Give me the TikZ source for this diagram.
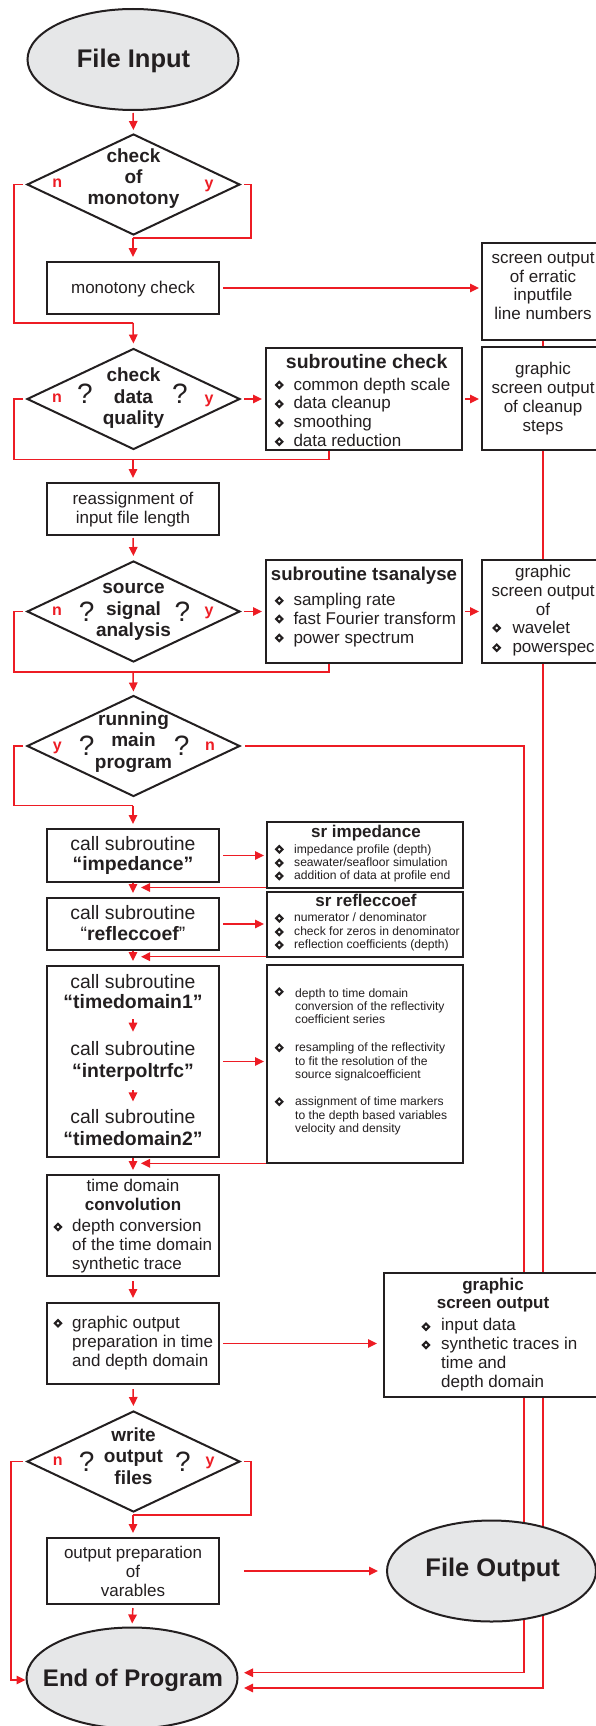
\documentclass[tikz,border=0pt]{standalone}
\usepackage{fontspec}
\setmainfont{Liberation Sans}
\usetikzlibrary{shapes.geometric,arrows.meta,backgrounds}
\definecolor{rd}{HTML}{ED1C24}
\definecolor{gfill}{HTML}{E6E7E8}
\definecolor{tc}{HTML}{231F20}
\newcommand\stk[7]{\foreach \lineT [count=\nn] in {#7}{\node[#2,anchor=#3] (#1\nn) at ({#4},{#5+#6*(\nn-1)}) {\lineT};}}
\begin{document}
\begin{tikzpicture}[x=1pt,y=-1pt,
  tx/.style={inner sep=0pt,text=tc},
  f17/.style={tx,font=\fontsize{17}{19}\selectfont},
  b17/.style={tx,font=\fontsize{17}{19}\selectfont\bfseries},
  f12/.style={tx,font=\fontsize{12.1}{13}\selectfont},
  fcall/.style={tx,font=\fontsize{19.4}{21}\selectfont},
  bcall/.style={tx,font=\fontsize{19.4}{21}\selectfont\bfseries},
  bdia/.style={tx,font=\fontsize{19}{21}\selectfont\bfseries},
  qm/.style={tx,font=\fontsize{28}{30}\selectfont},
  yn/.style={inner sep=0pt,text=rd,font=\fontsize{16}{18}\selectfont\bfseries},
  term/.style={tx,font=\fontsize{25.5}{28}\selectfont\bfseries},
  ln/.style={draw=rd,line width=1.5pt},
  arr/.style={ln,-{Triangle[length=9pt,width=8.5pt]}},
  box/.style={rectangle,draw=tc,line width=2pt,fill=white,inner sep=0pt},
  dia/.style={diamond,draw=tc,line width=2pt,fill=white,inner sep=0pt,minimum width=213pt,minimum height=101pt},
  ell/.style={ellipse,draw=tc,line width=2pt,fill=gfill,inner sep=0pt,minimum width=211pt,minimum height=101pt},
  bul/.style={diamond,draw=tc,line width=2.1pt,fill=white,inner sep=0pt,minimum width=7.2pt,minimum height=7.2pt}
]
\useasboundingbox (0,0) rectangle (596,1726);

% ---------- File Input ----------
\node[ell] (fi) at (133,59.5) {};
\node[term,anchor=base] (fit) at (133.5,67.3) {File Input};

% ---------- check of monotony ----------
\node[dia] (d1) at (133.5,184.5) {};
\stk{dat}{bdia}{base}{133.5}{162.7}{21}{check, of, monotony}
\node[yn,anchor=base] (d1n) at (57.3,187.5) {n};
\node[yn,anchor=base] (d1y) at (209,188.5) {y};

\node[box,minimum width=172pt,minimum height=52pt] (b1) at (133,288) {};
\node[f17,anchor=base] (b1t) at (133,293) {monotony check};

\node[box,minimum width=122pt,minimum height=97pt] (berr) at (543,291.5) {};
\stk{berrt}{f17}{base}{543}{263.3}{18.7}{screen output, of erratic, inputfile, line numbers}

% ---------- check data quality ----------
\node[dia] (d2) at (133.5,399) {};
\stk{dbt}{bdia}{base}{133.5}{381.5}{21.5}{check, data, quality}
\node[yn,anchor=base] (d2n) at (57,402.3) {n};
\node[yn,anchor=base] (d2y) at (209,403) {y};
\node[qm,anchor=base] (d2q1) at (85,403.3) {?};
\node[qm,anchor=base] (d2q2) at (180,403.3) {?};

\node[box,minimum width=196pt,minimum height=102pt] (bchk) at (364,399) {};
\node[tx,font=\fontsize{19.5}{21}\selectfont\bfseries,anchor=base] (bchkt) at (366.7,368.3) {subroutine check};
\stk{bchki}{f17}{base west}{293.3}{390}{18.9}{common depth scale, data cleanup, smoothing, data reduction}
\foreach \nn/\yy in {1/385,2/404,3/423,4/441.7} \node[bul] (bchkb\nn) at (279.3,\yy) {};

\node[box,minimum width=122pt,minimum height=103pt] (bcln) at (543,398.5) {};
\stk{bclnt}{f17}{base}{543}{374}{19}{graphic, screen output, of cleanup, steps}

\node[box,minimum width=172pt,minimum height=52pt] (brea) at (133,509) {};
\stk{breat}{f17}{base}{133}{504}{19.3}{reassignment of, input file length}

% ---------- source signal analysis ----------
\node[dia] (d3) at (133.5,611.5) {};
\stk{dct}{bdia}{base}{133.5}{593.3}{21.7}{source, signal, analysis}
\node[yn,anchor=base] (d3n) at (57,615) {n};
\node[yn,anchor=base] (d3y) at (209,615.5) {y};
\node[qm,anchor=base] (d3q1) at (86.7,621.7) {?};
\node[qm,anchor=base] (d3q2) at (182.5,621.7) {?};

\node[box,minimum width=196pt,minimum height=103pt] (btsa) at (364,611.5) {};
\node[tx,font=\fontsize{18.6}{21}\selectfont\bfseries,anchor=base] (btsat) at (364,580.7) {subroutine tsanalyse};
\stk{btsai}{f17}{base west}{293.3}{605.3}{19.3}{sampling rate, fast Fourier transform, power spectrum}
\foreach \nn/\yy in {1/600.7,2/619,3/638} \node[bul] (btsab\nn) at (279.3,\yy) {};

\node[box,minimum width=122pt,minimum height=103pt] (bgr2) at (543,611.5) {};
\stk{bgrt}{f17}{base}{543}{577.3}{19}{graphic, screen output, of}
\stk{bgri}{f17}{base west}{512.3}{633.3}{19.4}{wavelet, powerspec}
\foreach \nn/\yy in {1/628,2/647.7} \node[bul] (bgrb\nn) at (496.7,\yy) {};

% ---------- running main program ----------
\node[dia] (d4) at (133.5,746) {};
\stk{ddt}{bdia}{base}{133.5}{725}{21.7}{running, main, program}
\node[yn,anchor=base] (d4y) at (57.3,750) {y};
\node[yn,anchor=base] (d4n) at (210,750.7) {n};
\node[qm,anchor=base] (d4q1) at (86.7,755) {?};
\node[qm,anchor=base] (d4q2) at (181.7,755) {?};

% ---------- subroutine calls ----------
\node[box,minimum width=172pt,minimum height=53pt] (bimp) at (133,855.5) {};
\node[fcall,anchor=base] (bimpt1) at (133,850) {call subroutine};
\node[bcall,anchor=base] (bimpt2) at (133,870.7) {“impedance”};

\node[box,minimum width=196pt,minimum height=66pt] (bsimp) at (365,855) {};
\node[b17,anchor=base] (bsimpt) at (366,837.3) {sr impedance};
\stk{bsimpi}{f12}{base west}{294}{853.3}{13.3}{impedance profile (depth), {seawater/seafloor simulation}, addition of data at profile end}
\foreach \nn/\yy in {1/849.3,2/863,3/876} \node[bul] (bsimpb\nn) at (279.3,\yy) {};

\node[box,minimum width=172pt,minimum height=52pt] (bref) at (133,924) {};
\node[fcall,anchor=base] (breft1) at (133,919.3) {call subroutine};
\node[fcall,anchor=base] (breft2) at (133,940) {“\textbf{refleccoef}”};

\node[box,minimum width=196pt,minimum height=65pt] (bsref) at (365,924.5) {};
\node[b17,anchor=base] (bsreft) at (366,906.7) {sr refleccoef};
\stk{bsrefi}{f12}{base west}{294}{921.7}{13.3}{{numerator / denominator}, check for zeros in denominator, reflection coefficients (depth)}
\foreach \nn/\yy in {1/918.3,2/932,3/945} \node[bul] (bsrefb\nn) at (279.3,\yy) {};

\node[box,minimum width=172pt,minimum height=191pt] (btd) at (133,1061.5) {};
\node[fcall,anchor=base] (tdt1) at (133,988.3) {call subroutine};
\node[bcall,anchor=base] (tdt2) at (133,1008.3) {“timedomain1”};
\node[fcall,anchor=base] (tdt3) at (133,1055) {call subroutine};
\node[bcall,anchor=base] (tdt4) at (133,1077.3) {“interpoltrfc”};
\node[fcall,anchor=base] (tdt5) at (133,1123.3) {call subroutine};
\node[bcall,anchor=base] (tdt6) at (133,1145.7) {“timedomain2”};
\draw[arr,shorten <=10.7pt,shorten >=9.1pt] (tdt2.south) -- (tdt3.north);
\draw[arr,shorten <=8.6pt,shorten >=7.7pt] (tdt4.south) -- (tdt5.north);

\node[box,minimum width=196pt,minimum height=198pt] (bbig) at (365,1064) {};
\stk{bbigA}{f12}{base west}{295}{997.3}{13.3}{depth to time domain, conversion of the reflectivity, coefficient series}
\stk{bbigB}{f12}{base west}{295}{1051.7}{13.3}{resampling of the reflectivity, to fit the resolution of the, source signalcoefficient}
\stk{bbigC}{f12}{base west}{295}{1105.7}{13.3}{assignment of time markers, to the depth based variables, velocity and density}
\foreach \nn/\yy in {1/991.7,2/1047.7,3/1101.7} \node[bul] (bbigb\nn) at (279.3,\yy) {};

% ---------- convolution ----------
\node[box,minimum width=172pt,minimum height=101pt] (bconv) at (133,1225.5) {};
\node[f17,anchor=base] (bconvt1) at (133,1191.7) {time domain};
\node[b17,anchor=base] (bconvt2) at (133,1210) {convolution};
\stk{bconvi}{f17}{base west}{72}{1231.7}{18.8}{depth conversion, of the time domain, synthetic trace}
\node[bul] (bconvb) at (58,1227) {};

\node[box,minimum width=172pt,minimum height=81pt] (bgop) at (133,1343.5) {};
\stk{bgopi}{f17}{base west}{72}{1328.3}{18.85}{graphic output, preparation in time, and depth domain}
\node[bul] (bgopb) at (58,1323.3) {};

\node[box,minimum width=220pt,minimum height=124pt] (bgso) at (494,1335) {};
\stk{bgsot}{b17}{base}{493}{1290}{18.3}{graphic, screen output}
\stk{bgsoi}{f17}{base west}{441}{1330}{19.1}{input data, synthetic traces in, time and, depth domain}
\foreach \nn/\yy in {1/1326.7,2/1345} \node[bul] (bgsob\nn) at (426,\yy) {};

% ---------- write output files ----------
\node[dia] (d5) at (133.5,1461.5) {};
\stk{det}{bdia}{base}{133.5}{1441.7}{21.2}{write, output, files}
\node[yn,anchor=base] (d5n) at (57.7,1465) {n};
\node[yn,anchor=base] (d5y) at (210,1465.5) {y};
\node[qm,anchor=base] (d5q1) at (86.7,1471.7) {?};
\node[qm,anchor=base] (d5q2) at (183,1471.7) {?};

\node[box,minimum width=172pt,minimum height=66pt] (bout) at (133,1571) {};
\stk{boutt}{f17}{base}{133}{1558.3}{18.85}{output preparation, of, varables}

\node[ell,minimum width=209pt] (fo) at (491.5,1571) {};
\node[term,anchor=base] (fot) at (492.7,1576) {File Output};

\node[ell] (ep) at (132,1678) {};
\node[tx,font=\fontsize{24}{26}\selectfont\bfseries,anchor=base] (ept) at (133,1686.7) {End of Program};

% ---------- connectors ----------
\begin{scope}[on background layer]
\coordinate (m0) at (133,238);
\coordinate (m1) at (133,323);
\coordinate (m2) at (133,459.3);
\coordinate (m3) at (133,672);
\coordinate (m4) at (133,805.7);
\coordinate (m5) at (133,1515);
\coordinate (r1) at (141,887.5);
\coordinate (r2) at (141,956.7);
\coordinate (r3) at (141,1163.3);

\draw[arr,shorten <=2pt,shorten >=3pt] (fi.south) -- (d1.north);
\draw[ln] ([xshift=-3pt]d1.west) -| (14,323) -- (m1);
\draw[ln] ([xshift=3pt]d1.east) -| (251,238) -- (m0);
\draw[arr,shorten >=4pt] (m0) -- (b1.north);
\draw[arr,shorten <=3pt,shorten >=2pt] (b1.east) -- (b1.east -| berr.west);
\draw[arr,shorten >=4pt] (m1) -- (d2.north);

\draw[ln] ([xshift=-3pt]d2.west) -| (14,459.3) -| (bchk.south -| 329,0);
\draw[arr,shorten <=3pt,shorten >=3pt] (d2.east) -- (bchk.west);
\draw[arr,shorten <=2pt,shorten >=2pt] (bchk.east) -- (bchk.east -| bcln.west);
\draw[arr,shorten >=4pt] (m2) -- (brea.north);
\draw[arr,shorten <=2pt,shorten >=4pt] (brea.south) -- (d3.north);

\draw[ln] ([xshift=-3pt]d3.west) -| (14,672) -| (btsa.south -| 329,0);
\draw[arr,shorten <=3pt,shorten >=3pt] (d3.east) -- (btsa.west);
\draw[arr,shorten <=2pt,shorten >=2pt] (btsa.east) -- (btsa.east -| bgr2.west);
\draw[arr,shorten >=3pt] (m3) -- (d4.north);

\draw[ln] ([xshift=-3pt]d4.west) -| (14,805.7) -- (m4);
\draw[arr,shorten >=4pt] (m4) -- (bimp.north);
\draw[arr,shorten <=4pt,shorten >=5.5pt] (d4.east) -| (524,1672.7) -- (ep.east |- 0,1672.7);
\draw[arr,shorten >=5.5pt] (berr.south) -- (543,1688) -- (ep.east |- 0,1688);

\draw[arr,shorten <=3pt,shorten >=2pt] (bimp.east) -- (bimp.east -| bsimp.west);
\draw[arr] (bsimp.south west |- r1) -- (r1);
\draw[arr,shorten >=4pt] (bimp.south) -- (bref.north);
\draw[arr,shorten <=3pt,shorten >=2pt] (bref.east) -- (bref.east -| bsref.west);
\draw[arr] (bsref.south west |- r2) -- (r2);
\draw[arr,shorten >=4pt] (bref.south) -- (btd.north);
\draw[arr,shorten <=3pt,shorten >=2pt] (btd.east) -- (btd.east -| bbig.west);
\draw[arr] (bbig.south west |- r3) -- (r3);
\draw[arr,shorten >=4pt] (btd.south) -- (bconv.north);
\draw[arr,shorten <=4pt,shorten >=4pt] (bconv.south) -- (bgop.north);
\draw[arr,shorten <=3pt,shorten >=6pt] (bgop.east) -- (bgop.east -| bgso.west);
\draw[arr,shorten <=4pt,shorten >=4pt] (bgop.south) -- (d5.north);

\draw[ln] ([xshift=3pt]d5.east) -| (251,1515) -- (m5);
\draw[arr,shorten >=4pt] (m5) -- (bout.north);
\draw[arr] ([xshift=-3pt]d5.west) -| (11,1680) -- (ep.west |- 0,1680);
\draw[arr,shorten <=24pt,shorten >=8pt] (bout.east) -- (bout.east -| fo.west);
\draw[arr,shorten <=3pt,shorten >=3pt] (bout.south) -- (ep.north);
\end{scope}
\end{tikzpicture}
\end{document}
